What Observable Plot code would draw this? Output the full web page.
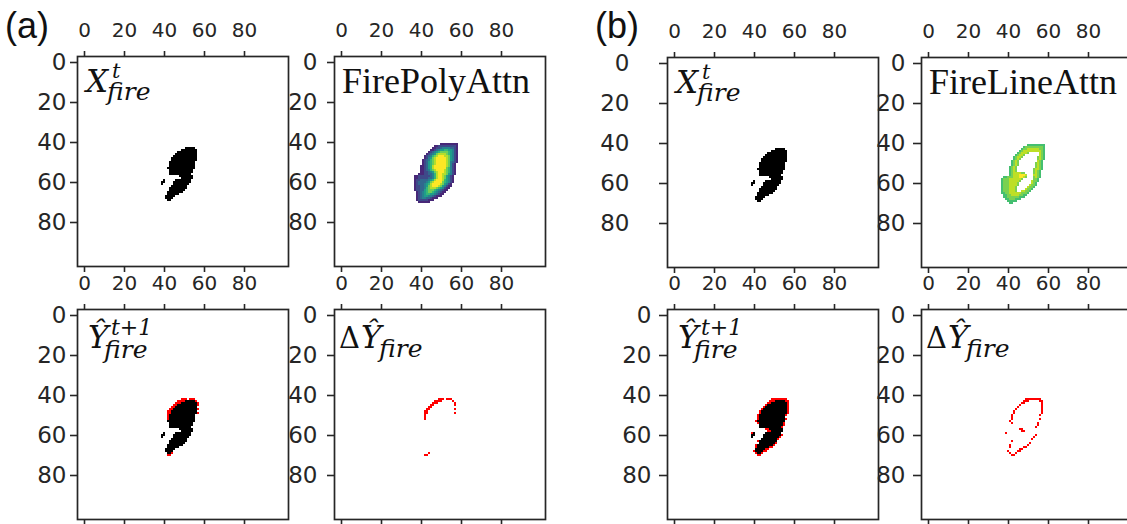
<!DOCTYPE html>
<html><head><meta charset="utf-8">
<script src="https://cdn.jsdelivr.net/npm/d3@7"></script>
<script src="https://cdn.jsdelivr.net/npm/@observablehq/plot@0.6"></script>
<style>
html,body{margin:0;padding:0;background:#fff;}
#fig{position:relative;width:1127px;height:524px;overflow:hidden;background:#fff;}
.lab{position:absolute;font-family:"Liberation Sans",Arial,sans-serif;font-size:36px;color:#111;line-height:1;}
#fig svg .ytl text{font-size:23px !important;}
#fig svg .xtl text{font-size:20px !important;}
</style></head><body><div id="fig"></div>
<script>
// ---- data: grid is 100 x 100, rows = y, cols = x ----
const tickValues = [0, 20, 40, 60, 80];
const panelLabels = ["(a)", "(b)"];
const titlePoly = "FirePolyAttn";
const titleLine = "FireLineAttn";

// current fire mask X^t_fire : [row, firstCol, lastCol]
const xFireRuns = [
  [43,51,55],[44,49,56],[45,47,56],[46,46,56],[47,45,56],[48,44,56],[49,44,56],
  [50,43,55],[51,43,55],[52,43,55],[53,42,55],[54,43,54],[55,43,54],[56,43,53],
  [57,48,54],[58,49,54],[59,40,40],[59,46,53],[60,39,40],[60,45,53],[61,39,39],[61,45,52],
  [62,44,51],[63,43,51],[64,43,50],[65,42,49],[66,42,47],[67,41,45],[68,41,44],[69,42,43]
];
// newly predicted cells, model (a)
const deltaARuns = [
  [42,49,51],[42,53,55],[43,47,50],[43,56,56],[44,46,48],[44,57,57],[45,45,46],[45,57,57],
  [46,44,45],[47,43,44],[47,57,57],[48,42,43],[49,42,43],[49,57,57],[50,42,42],[51,42,42],
  [52,42,42],[69,44,44],[70,42,43]
];
// newly predicted cells, model (b)
const deltaBRuns = [
  [42,49,56],[43,48,50],[43,56,57],[44,47,48],[44,57,57],[45,46,46],[45,57,57],
  [46,45,45],[46,57,57],[47,44,44],[47,57,57],[48,43,43],[48,57,57],[49,43,43],[49,57,57],
  [50,42,42],[50,56,56],[51,42,42],[52,42,42],[52,56,56],[53,41,41],[54,42,42],[54,55,55],
  [55,55,55],[56,54,54],[57,46,47],[58,47,48],[59,39,39],[60,54,54],[61,53,53],[62,52,52],
  [63,42,42],[64,51,51],[65,41,41],[65,50,50],[66,41,41],[66,48,49],[67,46,47],
  [68,40,40],[68,45,46],[69,41,41],[69,44,44],[70,42,43]
];
// attention maps: rows 41..70, cols 36..59 ; '.' = empty, digit = level 1..9
const attnRow0 = 41, attnCol0 = 36;
const polyAttn = [
  "..............111111111.",
  "...........112222222221.",
  "..........1122344443321.",
  ".........11234556655421.",
  "........123456777765421.",
  ".......1234578888765421.",
  "......12346789998875421.",
  "......12457899999875421.",
  ".....123467899999875421.",
  ".....123567899999874321.",
  ".....12356789999987421..",
  "....112356899999987421..",
  "....112356899999976421..",
  "....112346789999876421..",
  "....112234578999876421..",
  "...1112233468998875421..",
  ".11222222346899875421...",
  ".11222223346899875421...",
  ".12233334568999865421...",
  ".12333345789999765421...",
  ".1233345689999875421....",
  ".1223345789998754211....",
  ".122334678887654211.....",
  ".12233567776543211......",
  "..123456776543211.......",
  "..12345665543211........",
  "..1234554432111.........",
  "..12344332111...........",
  "..122222111.............",
  "...111111..............."
];
const lineAttn = [
  "..............666666666.",
  "............67777777776.",
  "...........677888888776.",
  "..........6788888888876.",
  ".........678887.....876.",
  "........67887.......876.",
  ".......67887.......7876.",
  ".......6787........7876.",
  "......6787.........876..",
  "......6787........7876..",
  "......6787........7876..",
  ".....6787.........7876..",
  ".....6787........78876..",
  ".....6787........7876...",
  ".....67888877....7876...",
  ".....678889998...8876...",
  "..667778889987...7876...",
  ".67778888887.....776....",
  ".6777888887.....8776....",
  ".677788887......876.....",
  ".677788887.....8776.....",
  ".67778887.....8776......",
  ".67778887....8776.......",
  ".67778887..88776........",
  ".66778888887776.........",
  "..667788887766..........",
  "..66777777666...........",
  "...66777666.............",
  "....66666...............",
  ".....66................."
];

// ---- helpers ----
const fig = document.getElementById("fig");
const N = d3.range(100);
const FW = 211, FH = 210, ML = 80, MT = 48, MR = 2, MB = 12;

function runsToCells(runs) {
  const out = [];
  for (const [r, a, b] of runs) for (let c = a; c <= b; ++c) out.push({x: c, y: r});
  return out;
}
function gridToCells(rows) {
  const out = [];
  rows.forEach((s, i) => {
    for (let j = 0; j < s.length; ++j) if (s[j] !== ".") out.push({x: attnCol0 + j, y: attnRow0 + i, v: +s[j]});
  });
  return out;
}

function panel(def) {
  const marks = [];
  for (const layer of def.layers) {
    marks.push(Plot.cell(layer.data, {x: "x", y: "y", fill: layer.fill, shapeRendering: "crispEdges"}));
  }
  marks.push(
    Plot.frame({stroke: "#262626", strokeWidth: 1.7}),
    Plot.axisX(tickValues, {anchor: "top", label: null, tickSize: 6, tickPadding: 14, strokeWidth: 1.6, fontSize: 20, className: "xtl"}),
    Plot.axisX(tickValues, {anchor: "bottom", label: null, tickSize: 6, tickFormat: () => "", strokeWidth: 1.6}),
    Plot.axisY(tickValues, {anchor: "left", label: null, tickSize: def.tickY || 7, tickPadding: def.padY, strokeWidth: 1.6, fontSize: 23, className: "ytl"})
  );
  const svg = Plot.plot({
    width: FW + ML + MR,
    height: FH + MT + MB,
    marginLeft: ML, marginRight: MR, marginTop: MT, marginBottom: MB,
    style: {background: "transparent", overflow: "visible", fontFamily: "DejaVu Sans", color: "#262626"},
    x: {type: "band", domain: N, padding: 0, axis: null},
    y: {type: "band", domain: N, padding: 0, axis: null},
    color: {type: "linear", scheme: "viridis", domain: def.cdomain || [0, 9]},
    marks
  });
  svg.style.position = "absolute";
  svg.style.left = (def.L - ML) + "px";
  svg.style.top = (def.T - MT) + "px";
  const s = d3.select(svg);
  s.selectAll("text").each(function() {
    const g = this.parentNode;
    const lab = g && g.getAttribute && g.getAttribute("aria-label");
    if (lab === "y-axis tick label") this.setAttribute("class", "ytlT");
  });
  s.selectAll('[aria-label="y-axis tick label"]').classed("ytl", true);
  s.selectAll('[aria-label="x-axis tick label"]').classed("xtl", true);
  for (const t of def.title) {
    s.append("text")
      .attr("x", ML + t.dx).attr("y", MT + t.dy)
      .attr("text-anchor", "start")
      .attr("font-family", t.family || "DejaVu Serif")
      .attr("font-style", t.italic === false ? "normal" : "italic")
      .attr("font-size", t.size)
      .attr("fill", "#111")
      .text(t.text);
  }
  fig.appendChild(svg);
}

const xCells = runsToCells(xFireRuns);
const dA = runsToCells(deltaARuns);
const dB = runsToCells(deltaBRuns);

const titleX = [
  {text: "X", dx: 9, dy: 36, size: 31},
  {text: "t", dx: 35, dy: 22, size: 21},
  {text: "fire", dx: 30, dy: 44, size: 25}
];
const titleY = [
  {text: "Ŷ", dx: 11, dy: 39, size: 31},
  {text: "t+1", dx: 34, dy: 26, size: 22},
  {text: "fire", dx: 27, dy: 49, size: 25}
];
const titleD = [
  {text: "Δ", dx: 5, dy: 39, size: 29, italic: false},
  {text: "Ŷ", dx: 27, dy: 39, size: 31},
  {text: "fire", dx: 45, dy: 48, size: 25}
];
const serifTitle = (txt) => [{text: txt, dx: 8, dy: 37, size: 36, italic: false, family: "Liberation Serif"}];

// (a)
panel({L: 77, T: 56, padY: 4, layers: [{data: xCells, fill: "black"}], title: titleX});
panel({L: 334, T: 56, padY: 10, layers: [{data: gridToCells(polyAttn), fill: "v"}], title: serifTitle(titlePoly)});
panel({L: 77, T: 309, padY: 4, layers: [{data: xCells, fill: "black"}, {data: dA, fill: "#ff0000"}], title: titleY});
panel({L: 334, T: 309, padY: 10, layers: [{data: dA, fill: "#ff0000"}], title: titleD});
// (b)
panel({L: 667, T: 57, padY: 30, tickY: 8, layers: [{data: xCells, fill: "black"}], title: titleX});
panel({L: 921, T: 57, padY: 8, tickY: 8, cdomain: [-1, 9], layers: [{data: gridToCells(lineAttn), fill: "v"}], title: serifTitle(titleLine)});
panel({L: 667, T: 309, padY: 8, tickY: 8, layers: [{data: xCells, fill: "black"}, {data: dB, fill: "#ff0000"}], title: titleY});
panel({L: 921, T: 309, padY: 8, tickY: 8, layers: [{data: dB, fill: "#ff0000"}], title: titleD});

panelLabels.forEach((t, i) => {
  const d = document.createElement("div");
  d.className = "lab";
  d.textContent = t;
  d.style.left = (i === 0 ? 5 : 595) + "px";
  d.style.top = "8px";
  fig.appendChild(d);
});
</script></body></html>
